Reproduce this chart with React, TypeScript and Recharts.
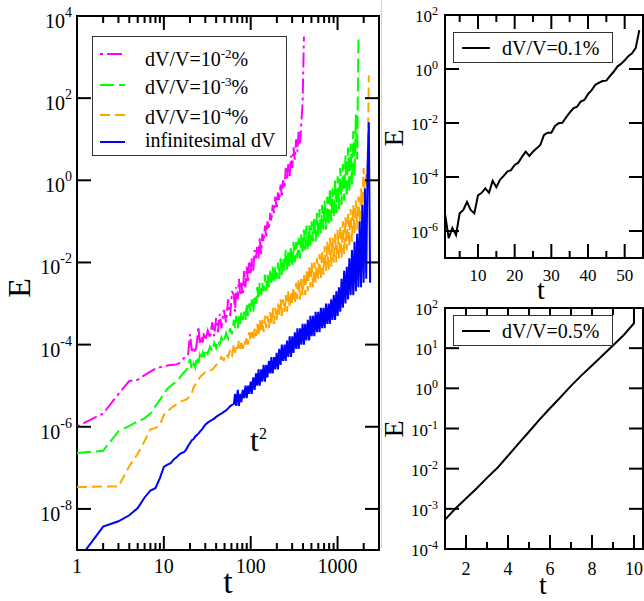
import { LineChart, Line, XAxis, YAxis, ReferenceArea, Legend } from 'recharts';

const FONT = '"Liberation Serif", "Times New Roman", Times, serif';

// ---- main panel: E(t), log-log, four perturbation sizes ----
// shared time grid; each run stops where it blows up
const times = [
  1, 2, 3, 4, 5, 6, 7, 8, 9, 10, 11, 12, 13, 14, 15, 16, 17, 18, 19, 20,
  21, 22, 23, 24, 25, 26, 27, 28, 29, 30,
  32, 34, 36, 38, 40, 42, 44, 46, 49, 52, 55, 58, 61,
  64, 66, 68, 71, 73, 76, 78, 81, 84, 87,
  90, 93, 96, 100, 103, 107, 111, 115, 119, 123,
  127, 132, 136, 141, 146, 151, 156, 162, 168, 173,
  179, 186, 192, 199, 206, 213, 221, 228, 236, 245,
  253, 262, 271, 281, 291, 301, 311, 322, 334, 345,
  357, 370, 383, 396, 410, 424, 439, 455, 471, 487,
  504, 522, 540, 559, 579, 599, 620, 642, 664, 687,
  711, 736, 762, 789, 816, 845, 874, 905, 937, 969,
  1003, 1038, 1075, 1112, 1151, 1191, 1233, 1276, 1321, 1367,
  1415, 1465, 1516, 1569, 1624, 1681, 1740, 1800, 1863, 1928,
  1996, 2066, 2138, 2213, 2290, 2370,
];

// dV/V = 1e-2 %
const magenta = [
  1.02e-6, 2.1e-6, 6.3e-6, 1.3e-5, 1.4e-5, 1.8e-5, 2.2e-5, 2.6e-5, 2.8e-5, 2.95e-5, 3.1e-5, 3.2e-5, 3.25e-5, 3.3e-5, 3.5e-5, 4.2e-5, 4.7e-5, 5e-5, 5.4e-5, 1.8e-4,
  7e-5, 8.9e-5, 6.3e-5, 1.12e-4, 2.8e-4, 1e-4, 1.6e-4, 1.12e-4, 2e-4, 1.26e-4,
  2.2e-4, 1.4e-4, 3.5e-4, 1.6e-4, 4.5e-4, 2e-4, 5.6e-4, 2.5e-4, 7e-4, 3.5e-4, 1.26e-3, 5e-4, 2e-3,
  1.6e-3, 6.3e-4, 2.5e-3, 1.26e-3, 4e-3, 1.6e-3, 3.2e-3, 1.6e-3, 6.3e-3, 2.5e-3,
  7.9e-3, 3.2e-3, 1e-2, 5e-3, 1.26e-2, 6.3e-3, 2e-2, 1.26e-2, 2.5e-2, 1.26e-2,
  4e-2, 1.6e-2, 5e-2, 3.2e-2, 7.9e-2, 4e-2, 0.1, 6.3e-2, 0.16, 0.1,
  0.25, 0.16, 0.4, 0.2, 0.5, 0.32, 0.79, 0.4, 1, 0.63,
  2, 1, 2.5, 1.26, 4, 2, 6.3, 3.2, 10, 5,
  15.8, 7.9, 25, 79, 3160,
];

// dV/V = 1e-3 %
const green = [
  2.3e-7, 2.6e-7, 7.8e-7, 1.05e-6, 1.35e-6, 1.6e-6, 2.1e-6, 3.2e-6, 4.5e-6, 6.3e-6, 8.5e-6, 1e-5, 1.12e-5, 1.3e-5, 1.5e-5, 1.8e-5, 2.1e-5, 2.4e-5, 2.8e-5, 4.5e-5,
  2.5e-5, 3.5e-5, 2.8e-5, 5e-5, 3.5e-5, 5.6e-5, 4.5e-5, 6.3e-5, 5e-5, 7.6e-5,
  6e-5, 8.9e-5, 7e-5, 1.12e-4, 8.3e-5, 1.26e-4, 1e-4, 1.5e-4, 1.12e-4, 1.9e-4, 1.4e-4, 2.5e-4, 1.8e-4,
  4e-4, 2.5e-4, 5e-4, 2.5e-4, 5e-4, 3.2e-4, 6.3e-4, 4e-4, 6.3e-4, 4e-4,
  1e-3, 5e-4, 1e-3, 6.3e-4, 1.26e-3, 6.3e-4, 1.6e-3, 1e-3, 2.5e-3, 1.26e-3,
  3.2e-3, 1.6e-3, 3.2e-3, 2e-3, 5e-3, 2e-3, 5e-3, 2.5e-3, 6.3e-3, 3.2e-3,
  7.9e-3, 3.2e-3, 7.9e-3, 4e-3, 1e-2, 4e-3, 1.26e-2, 5e-3, 1.26e-2, 6.3e-3,
  2e-2, 6.3e-3, 2e-2, 7.9e-3, 2.5e-2, 7.9e-3, 3.2e-2, 1e-2, 3.2e-2, 1.26e-2,
  4e-2, 1.26e-2, 5e-2, 1.6e-2, 6.3e-2, 2e-2, 7.9e-2, 2e-2, 7.9e-2, 2.5e-2,
  0.1, 3.2e-2, 0.126, 3.2e-2, 0.16, 4e-2, 0.2, 5e-2, 0.25, 6.3e-2,
  0.32, 6.3e-2, 0.4, 7.9e-2, 0.63, 0.1, 0.63, 0.126, 1, 0.16,
  1.26, 0.2, 2, 0.25, 2.5, 0.32, 4, 0.4, 6.3, 0.5,
  7.9, 0.79, 15.8, 1.26, 40, 3.2, 2900,
];

// dV/V = 1e-4 %
const orange = [
  3.4e-8, 3.5e-8, 3.5e-8, 1.1e-7, 2.2e-7, 4.5e-7, 8.7e-7, 9.3e-7, 1.12e-6, 1.95e-6, 2.4e-6, 2.8e-6, 3.2e-6, 3.5e-6, 4e-6, 4.2e-6, 4.4e-6, 4.6e-6, 5e-6, 5.8e-6,
  6.6e-6, 8.9e-6, 1.05e-5, 1.26e-5, 1.4e-5, 1.6e-5, 1.74e-5, 1.86e-5, 2e-5, 2.1e-5,
  2.2e-5, 2.3e-5, 2.45e-5, 2.8e-5, 3.2e-5, 3.5e-5, 3.9e-5, 5e-5, 4.2e-5, 6e-5, 5e-5, 7.4e-5, 5.6e-5,
  1e-4, 6.3e-5, 1e-4, 7.9e-5, 1.26e-4, 7.9e-5, 1.26e-4, 7.9e-5, 1.26e-4, 1e-4,
  1.6e-4, 1e-4, 2e-4, 1.26e-4, 2e-4, 1.26e-4, 2.5e-4, 1.6e-4, 3.2e-4, 1.6e-4,
  4e-4, 2e-4, 4e-4, 2e-4, 5e-4, 2.5e-4, 5e-4, 2.5e-4, 6.3e-4, 3.2e-4,
  7.9e-4, 3.2e-4, 7.9e-4, 4e-4, 1e-3, 5e-4, 1.26e-3, 5e-4, 1.26e-3, 6.3e-4,
  1.6e-3, 6.3e-4, 2e-3, 7.9e-4, 2e-3, 1e-3, 2.5e-3, 1e-3, 3.2e-3, 1.26e-3,
  4e-3, 1.26e-3, 4e-3, 1.6e-3, 5e-3, 1.6e-3, 6.3e-3, 2e-3, 7.9e-3, 2.5e-3,
  1e-2, 2.5e-3, 1e-2, 3.2e-3, 1.26e-2, 4e-3, 1.6e-2, 4e-3, 2e-2, 5e-3,
  2.5e-2, 6.3e-3, 3.2e-2, 6.3e-3, 4e-2, 7.9e-3, 4e-2, 1e-2, 5e-2, 1e-2,
  6.3e-2, 1.26e-2, 7.9e-2, 1.26e-2, 0.1, 1.6e-2, 0.126, 2e-2, 0.16, 2.5e-2,
  0.2, 3.2e-2, 0.25, 5e-2, 0.32, 6.3e-2, 0.4, 0.1, 0.63, 0.2,
  2, 0.4, 1.6, 0.63, 355,
];

// infinitesimal dV
const blue = [
  5.2e-10, 3.7e-9, 5e-9, 7e-9, 1.05e-8, 1.9e-8, 2.8e-8, 3.2e-8, 5.6e-8, 1.05e-7, 1.2e-7, 1.3e-7, 1.6e-7, 1.8e-7, 2.1e-7, 2.3e-7, 2.4e-7, 2.75e-7, 3.4e-7, 4e-7,
  4.7e-7, 5e-7, 5.8e-7, 6.3e-7, 6.8e-7, 7.6e-7, 8.3e-7, 9.1e-7, 1.02e-6, 1.12e-6,
  1.26e-6, 1.38e-6, 1.48e-6, 1.58e-6, 1.74e-6, 1.86e-6, 2e-6, 2.1e-6, 2.3e-6, 2.5e-6, 2.8e-6, 3.2e-6, 3.4e-6,
  3.6e-6, 6.3e-6, 3.2e-6, 7.9e-6, 3.2e-6, 6.3e-6, 4e-6, 7.9e-6, 5e-6, 1e-5,
  5e-6, 1e-5, 6.3e-6, 1.26e-5, 6.3e-6, 1.6e-5, 7.9e-6, 2e-5, 1e-5, 2.5e-5,
  1e-5, 2.5e-5, 1.26e-5, 3.2e-5, 1.26e-5, 3.2e-5, 1.6e-5, 4e-5, 2e-5, 5e-5,
  2e-5, 5e-5, 2.5e-5, 6.3e-5, 2.5e-5, 7.9e-5, 3.2e-5, 1e-4, 4e-5, 1e-4,
  4e-5, 1.26e-4, 5e-5, 1.6e-4, 5e-5, 1.6e-4, 6.3e-5, 2e-4, 7.9e-5, 2.5e-4,
  7.9e-5, 2.5e-4, 1e-4, 3.2e-4, 1e-4, 3.2e-4, 1.26e-4, 4e-4, 1.26e-4, 5e-4,
  1.6e-4, 5e-4, 1.6e-4, 6.3e-4, 2e-4, 6.3e-4, 2e-4, 7.9e-4, 2.5e-4, 7.9e-4,
  2.5e-4, 1e-3, 3.2e-4, 1e-3, 3.2e-4, 1.26e-3, 4e-4, 1.6e-3, 4e-4, 2e-3,
  5e-4, 2.5e-3, 6.3e-4, 4e-3, 7.9e-4, 6.3e-3, 1e-3, 7.9e-3, 1.26e-3, 1.26e-2,
  1.6e-3, 2e-2, 1.6e-3, 3.2e-2, 2e-3, 5e-2, 2.5e-3, 0.1, 2.5e-3, 0.25,
  3.2e-3, 0.63, 4e-3, 2, 26, 3.2e-3,
];

const mainLegendRows = [
  { color: '#ff00ff', dash: '3 4 15 4', base: 'dV/V=10', sup: '-2', tail: '%', lineY: 18, textY: 30 },
  { color: '#00ff00', dash: '14 5', base: 'dV/V=10', sup: '-3', tail: '%', lineY: 49, textY: 58 },
  { color: '#ffa500', dash: '10 5', base: 'dV/V=10', sup: '-4', tail: '%', lineY: 79, textY: 88 },
  { color: '#0000ff', dash: undefined, base: 'infinitesimal dV', sup: '', tail: '', lineY: 106, textY: 111 },
];

const mainXTicks = [1, 2, 3, 4, 5, 6, 7, 8, 9, 10, 20, 30, 40, 50, 60, 70, 80, 90, 100, 200, 300, 400, 500, 600, 700, 800, 900, 1000, 2000];
const mainXMajor = [1, 10, 100, 1000];
const mainYTicks = [1e-8, 1e-6, 1e-4, 1e-2, 1, 1e2, 1e4];

// ---- top right: dV/V = 0.1 % ----
const tFast = [
  1, 2, 3, 4, 5, 6, 7, 8, 9, 10, 11, 12, 13, 14, 15, 16, 17, 18, 19, 20,
  21, 22, 23, 24, 25, 26, 27, 28, 29, 30, 31, 32, 33, 34, 35, 36, 37, 38, 39, 40,
  41, 42, 43, 44, 45, 46, 47, 48, 49, 50, 51, 52, 53, 54,
];
const eFast = [
  4.5e-6, 5.4e-7, 1.3e-6, 7e-7, 4.5e-6, 6e-6, 1.2e-5, 6e-6, 4.5e-6, 2.1e-5,
  2.6e-5, 3.8e-5, 2.6e-5, 7.2e-5, 4.2e-5, 7.8e-5, 1.1e-4, 1.6e-4, 1.8e-4, 2.8e-4,
  3.4e-4, 5.6e-4, 8.7e-4, 6e-4, 8.7e-4, 1.15e-3, 1.55e-3, 3.6e-3, 4.4e-3, 4.4e-3,
  7.8e-3, 9.8e-3, 1.02e-2, 1.6e-2, 2.4e-2, 3.5e-2, 4e-2, 6.2e-2, 7.1e-2, 0.117,
  0.166, 0.26, 0.31, 0.36, 0.37, 0.55, 0.79, 1.23, 1.55, 2.1,
  3.0, 3.8, 5.9, 27.5,
];
const fastXTicks = [5, 10, 15, 20, 25, 30, 35, 40, 45, 50];
const fastXMajor = [10, 20, 30, 40, 50];
const fastYTicks = [1e-6, 1e-4, 1e-2, 1, 1e2];

// ---- bottom right: dV/V = 0.5 % ----
const tFaster = [1, 1.5, 2, 2.5, 3, 3.5, 4, 4.5, 5, 5.5, 6, 6.5, 7, 7.5, 8, 8.5, 9, 9.5, 10, 10];
const eFaster = [
  5.4e-4, 1.02e-3, 1.8e-3, 3.2e-3, 5.9e-3, 1.05e-2, 2.1e-2, 4.2e-2, 8.3e-2, 0.166,
  0.32, 0.6, 1.15, 2.1, 3.7, 6.6, 11.7, 20.9, 41.7, 1e5,
];
const fasterXTicks = [2, 3, 4, 5, 6, 7, 8, 9, 10];
const fasterXMajor = [2, 4, 6, 8, 10];
const fasterYTicks = [1e-4, 1e-3, 1e-2, 1e-1, 1, 10, 100];

type XTickOpts = { majors: number[]; plotH: number; dy: number; fontSize: number };
type YTickOpts = { plotW: number; gap: number; dy: number; fontSize: number; supSize: number; supDy: number };

// ticks point inward and are mirrored on the opposite side of the frame
const makeXTick = (o: XTickOpts) => (props: any) => {
  const { x, y, payload } = props;
  const v = payload.value as number;
  const major = o.majors.includes(v);
  const len = major ? 14 : 7;
  const top = y - o.plotH;
  return (
    <g>
      <line x1={x} x2={x} y1={y} y2={y - len} stroke="#000" strokeWidth={2} />
      <line x1={x} x2={x} y1={top} y2={top + len} stroke="#000" strokeWidth={2} />
      {major && (
        <text x={x} y={y + o.dy} textAnchor="middle" fontSize={o.fontSize} fontFamily={FONT} fill="#000">
          {v}
        </text>
      )}
    </g>
  );
};

const makeYTick = (o: YTickOpts) => (props: any) => {
  const { x, y, payload } = props;
  const exp = Math.round(Math.log10(payload.value));
  const right = x + o.plotW;
  return (
    <g>
      <line x1={x} x2={x + 14} y1={y} y2={y} stroke="#000" strokeWidth={2} />
      <line x1={right} x2={right - 14} y1={y} y2={y} stroke="#000" strokeWidth={2} />
      <text x={x - o.gap} y={y + o.dy} textAnchor="end" fontSize={o.fontSize} fontFamily={FONT} fill="#000">
        10
        <tspan dy={o.supDy} fontSize={o.supSize}>
          {exp}
        </tspan>
      </text>
    </g>
  );
};

const yTitle = (x: number, y: number, size: number) => () => (
  <text transform={`translate(${x},${y}) rotate(-90)`} textAnchor="middle" fontSize={size} fontFamily={FONT} fill="#000">
    E
  </text>
);

const MainXTitle = () => (
  <g>
    <text x={228} y={593} textAnchor="middle" fontSize={34} fontFamily={FONT} fill="#000">
      t
    </text>
    <text x={250} y={451} fontSize={32} fontFamily={FONT} fill="#000">
      t
      <tspan dy={-12} fontSize={16}>
        2
      </tspan>
    </text>
  </g>
);

const smallXTitle = (x: number, y: number, size: number) => () => (
  <text x={x} y={y} textAnchor="middle" fontSize={size} fontFamily={FONT} fill="#000">
    t
  </text>
);

function MainLegend() {
  return (
    <svg width={195} height={120} style={{ display: 'block' }}>
      <rect x={0.5} y={0.5} width={194} height={119} fill="#fff" stroke="#333" strokeWidth={1} />
      {mainLegendRows.map((r) => (
        <g key={r.color}>
          <line x1={8} x2={33} y1={r.lineY} y2={r.lineY} stroke={r.color} strokeWidth={2} strokeDasharray={r.dash} />
          <text x={53} y={r.textY} fontSize={20} fontFamily={FONT} fill="#000">
            {r.base}
            {r.sup && (
              <tspan dy={-8} fontSize={13}>
                {r.sup}
              </tspan>
            )}
            {r.tail && <tspan dy={8}>{r.tail}</tspan>}
          </text>
        </g>
      ))}
    </svg>
  );
}

function SingleLegend({ text }: { text: string }) {
  return (
    <svg width={160} height={31} style={{ display: 'block' }}>
      <rect x={0.5} y={0.5} width={159} height={30} fill="#fff" stroke="#333" strokeWidth={1} />
      <line x1={9} x2={37} y1={16} y2={16} stroke="#000" strokeWidth={2} />
      <text x={49} y={23} fontSize={20} fontFamily={FONT} fill="#000">
        {text}
      </text>
    </svg>
  );
}

export default function App() {
  const mainData = times.map((t, i) => ({
    t,
    m: magenta[i] ?? null,
    g: green[i] ?? null,
    o: orange[i] ?? null,
    b: blue[i] ?? null,
  }));
  const fastData = tFast.map((t, i) => ({ t, e: eFast[i] }));
  const fasterData = tFaster.map((t, i) => ({ t, e: eFaster[i] }));

  return (
    <div style={{ position: 'absolute', left: 0, top: 0, width: 644, height: 601, background: '#fff', overflow: 'hidden' }}>
      <div style={{ position: 'absolute', left: 381, top: 0, width: 1, height: 548, background: '#d0d0d0' }} />

      <div style={{ position: 'absolute', left: 0, top: 0 }}>
        <LineChart width={390} height={601} data={mainData} margin={{ top: 16, right: 11, bottom: 21, left: 17 }}>
          <XAxis
            dataKey="t"
            type="number"
            scale="log"
            domain={[1, 3000]}
            allowDataOverflow
            ticks={mainXTicks}
            interval={0}
            tickSize={0}
            tickMargin={0}
            axisLine={false}
            height={30}
            tick={makeXTick({ majors: mainXMajor, plotH: 534, dy: 23, fontSize: 20 })}
            label={{ content: MainXTitle }}
          />
          <YAxis
            type="number"
            scale="log"
            domain={[1e-9, 1e4]}
            allowDataOverflow
            ticks={mainYTicks}
            interval={0}
            tickSize={0}
            tickMargin={0}
            axisLine={false}
            width={60}
            tick={makeYTick({ plotW: 302, gap: 5, dy: 12, fontSize: 20, supSize: 14, supDy: -11 })}
            label={{ content: yTitle(30, 288, 32) }}
          />
          <ReferenceArea x1={1} x2={3000} y1={1e-9} y2={1e4} fill="none" stroke="#000" strokeWidth={2} />
          <Line dataKey="m" type="linear" stroke="#ff00ff" strokeWidth={2} strokeDasharray="3 4 15 4" dot={false} activeDot={false} isAnimationActive={false} />
          <Line dataKey="g" type="linear" stroke="#00ff00" strokeWidth={2} strokeDasharray="14 5" dot={false} activeDot={false} isAnimationActive={false} />
          <Line dataKey="o" type="linear" stroke="#ffa500" strokeWidth={2} strokeDasharray="10 5" dot={false} activeDot={false} isAnimationActive={false} />
          <Line dataKey="b" type="linear" stroke="#0000ff" strokeWidth={2} dot={false} activeDot={false} isAnimationActive={false} />
          <Legend
            layout="vertical"
            align="center"
            verticalAlign="middle"
            wrapperStyle={{ left: 92, top: 36, width: 195, height: 120 }}
            content={() => <MainLegend />}
          />
        </LineChart>
      </div>

      <div style={{ position: 'absolute', left: 370, top: 0 }}>
        <LineChart width={274} height={310} data={fastData} margin={{ top: 15, right: 1, bottom: 22, left: 35 }}>
          <XAxis
            dataKey="t"
            type="number"
            domain={[1, 55]}
            allowDataOverflow
            ticks={fastXTicks}
            interval={0}
            tickSize={0}
            tickMargin={0}
            axisLine={false}
            height={30}
            tick={makeXTick({ majors: fastXMajor, plotH: 243, dy: 23, fontSize: 17 })}
            label={{ content: smallXTitle(171, 299, 28) }}
          />
          <YAxis
            type="number"
            scale="log"
            domain={[1e-7, 1e2]}
            allowDataOverflow
            ticks={fastYTicks}
            interval={0}
            tickSize={0}
            tickMargin={0}
            axisLine={false}
            width={40}
            tick={makeYTick({ plotW: 198, gap: 7, dy: 7, fontSize: 17, supSize: 12, supDy: -7 })}
            label={{ content: yTitle(33, 138, 28) }}
          />
          <ReferenceArea x1={1} x2={55} y1={1e-7} y2={1e2} fill="none" stroke="#000" strokeWidth={2} />
          <Line dataKey="e" type="linear" stroke="#000" strokeWidth={2} dot={false} activeDot={false} isAnimationActive={false} />
          <Legend
            layout="vertical"
            align="center"
            verticalAlign="middle"
            wrapperStyle={{ left: 83, top: 32, width: 160, height: 31 }}
            content={() => <SingleLegend text="dV/V=0.1%" />}
          />
        </LineChart>
      </div>

      <div style={{ position: 'absolute', left: 370, top: 290 }}>
        <LineChart width={274} height={311} data={fasterData} margin={{ top: 18, right: 1, bottom: 22, left: 35 }}>
          <XAxis
            dataKey="t"
            type="number"
            domain={[1, 10.43]}
            allowDataOverflow
            ticks={fasterXTicks}
            interval={0}
            tickSize={0}
            tickMargin={0}
            axisLine={false}
            height={30}
            tick={makeXTick({ majors: fasterXMajor, plotH: 241, dy: 26, fontSize: 18 })}
            label={{ content: smallXTitle(173, 304, 28) }}
          />
          <YAxis
            type="number"
            scale="log"
            domain={[1e-4, 1e2]}
            allowDataOverflow
            ticks={fasterYTicks}
            interval={0}
            tickSize={0}
            tickMargin={0}
            axisLine={false}
            width={40}
            tick={makeYTick({ plotW: 198, gap: 7, dy: 7, fontSize: 17, supSize: 12, supDy: -7 })}
            label={{ content: yTitle(33, 139, 28) }}
          />
          <ReferenceArea x1={1} x2={10.43} y1={1e-4} y2={1e2} fill="none" stroke="#000" strokeWidth={2} />
          <Line dataKey="e" type="linear" stroke="#000" strokeWidth={2} dot={false} activeDot={false} isAnimationActive={false} />
          <Legend
            layout="vertical"
            align="center"
            verticalAlign="middle"
            wrapperStyle={{ left: 83, top: 25, width: 160, height: 31 }}
            content={() => <SingleLegend text="dV/V=0.5%" />}
          />
        </LineChart>
      </div>
    </div>
  );
}
